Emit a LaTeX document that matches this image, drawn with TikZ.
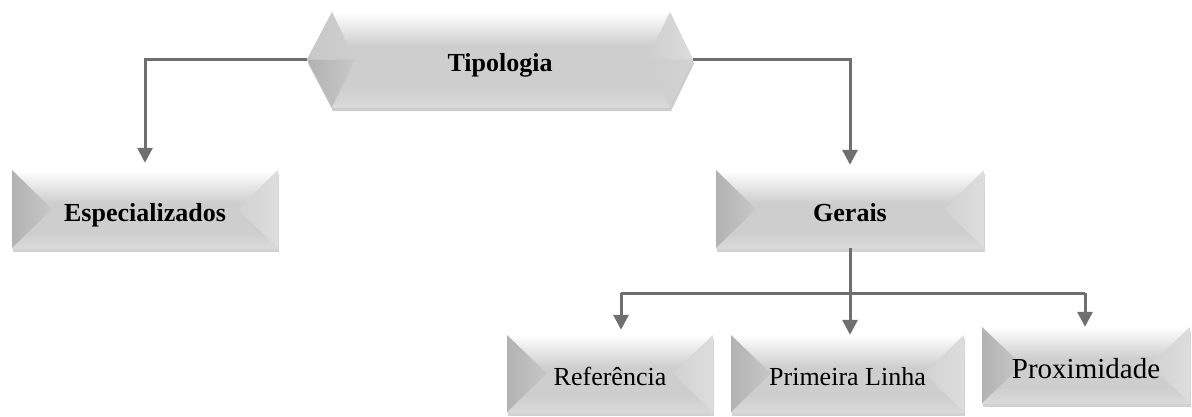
\documentclass[tikz,border=0pt]{standalone}
\usepackage{fontspec}
\setmainfont{Liberation Serif}
\usetikzlibrary{arrows.meta,calc,shadows}
\definecolor{face}{HTML}{CECECE}
\definecolor{ldark}{HTML}{B2B2B2}
\definecolor{llight}{HTML}{C8C8C8}
\definecolor{rdark}{HTML}{D2D2D2}
\definecolor{rlight}{HTML}{DDDDDD}
\definecolor{botc}{HTML}{DADADA}
\definecolor{linec}{HTML}{6F6F6F}
\tikzset{
  bevbox/.style={rectangle, inner sep=0pt, text height=24pt, text depth=0pt,
    font=\fontsize{26}{30}\selectfont,
    drop shadow={shadow xshift=1pt, shadow yshift=-4pt, opacity=0.25, fill=black!70},
    fill=face,
    path picture={
      \path (path picture bounding box.north west) coordinate (pNW)
            (path picture bounding box.north east) coordinate (pNE)
            (path picture bounding box.south west) coordinate (pSW)
            (path picture bounding box.south east) coordinate (pSE)
            (path picture bounding box.west) coordinate (pW)
            (path picture bounding box.east) coordinate (pE);
      \fill[face] (pNW) rectangle (pSE);
      \shade[top color=white, bottom color=face] (pNW) rectangle ($(pNE)!0.42!(pSE)$);
      \shade[top color=face, bottom color=botc] ($(pNW)!0.8!(pSW)$) rectangle (pSE);
      \shade[left color=ldark, right color=llight] (pNW) -- ($(pW)+(40,0)$) -- (pSW) -- cycle;
      \shade[left color=rdark, right color=rlight] (pNE) -- ($(pE)+(-40,0)$) -- (pSE) -- cycle;
    }},
  boldtext/.style={font=\bfseries\fontsize{26}{30}\selectfont},
  conn/.style={draw=linec, line width=3pt, -{Triangle[width=15pt,length=15pt]}},
  barline/.style={draw=linec, line width=3pt},
}
\begin{document}
\begin{tikzpicture}[x=1pt,y=-1pt]
\useasboundingbox (0,0) rectangle (1192,416);
% Tipologia hexagon
\fill[black, opacity=0.2] (308,63.5)--(333,16)--(671,16)--(694,63.5)--(671,111)--(333,111)--cycle;
\fill[face] (307,59.5)--(332,12)--(670,12)--(693,59.5)--(670,107)--(332,107)--cycle;
\shade[top color=white, bottom color=face] (332,12) rectangle (670,46);
\shade[top color=face, bottom color=botc] (332,88) rectangle (670,107);
\shade[left color=llight, right color=face] (307,59.5)--(332,12)--(355,59.5)--cycle;
\shade[left color=ldark, right color=llight] (307,59.5)--(355,59.5)--(332,107)--cycle;
\shade[left color=face, right color=rlight] (693,59.5)--(670,12)--(647,59.5)--cycle;
\shade[left color=face, right color=rdark] (693,59.5)--(647,59.5)--(670,107)--cycle;
\node[rectangle, inner sep=0pt, minimum width=386pt, minimum height=95pt,
      text height=24pt, text depth=0pt, boldtext] (tip) at (500,59.5) {Tipologia};
% boxes
\node[bevbox, boldtext, minimum width=266pt, minimum height=78pt] (esp) at (145,209) {Especializados};
\node[bevbox, boldtext, minimum width=268pt, minimum height=78pt] (ger) at (850,209) {Gerais};
\node[bevbox, minimum width=206pt, minimum height=77pt] (ref) at (610,373.5) {Referência};
\node[bevbox, minimum width=233pt, minimum height=77pt] (pl) at (847.5,373.5) {Primeira Linha};
\node[bevbox, minimum width=208pt, minimum height=76pt, text height=26pt,
      font=\fontsize{29}{33}\selectfont] (prox) at (1086,365) {Proximidade};
% connectors
\draw[conn, shorten >=7pt] (tip.west) -| (esp.north);
\draw[conn, shorten >=5pt] (tip.east) -| (ger.north);
\draw[conn] (ger.south) -- (ger.south |- pl.north);
\coordinate (barL) at (621,293);
\coordinate (barR) at (1085,293);
\draw[barline] (barL) -- (barR);
\draw[conn, shorten >=5pt] (barL) -- (barL |- ref.north);
\draw[conn] (barR) -- (barR |- prox.north);
\end{tikzpicture}
\end{document}
